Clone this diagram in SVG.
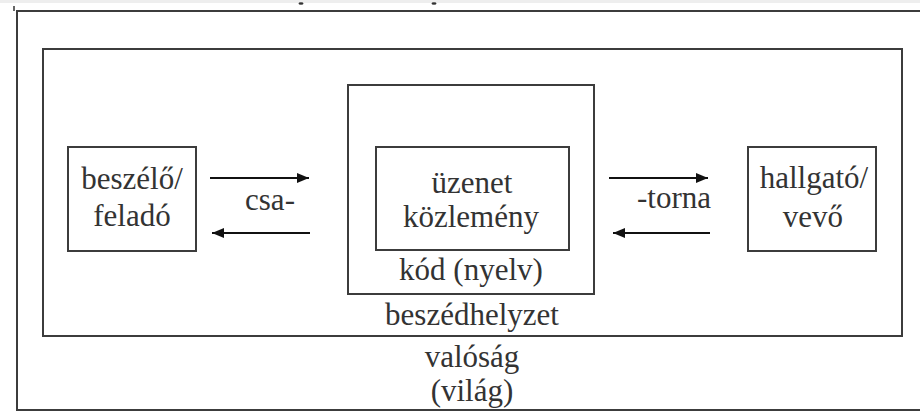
<svg xmlns="http://www.w3.org/2000/svg" width="920" height="412" viewBox="0 0 920 412">
<defs>
<style>
.frame{fill:none;stroke:#3c3c3c;stroke-width:2}
.lbl{font-family:'Liberation Serif','DejaVu Serif',serif;font-size:31px;fill:#333;text-anchor:middle}
.conn{stroke:#111;stroke-width:2;fill:none}
</style>
<marker id="ah" viewBox="0 0 12 10" refX="12" refY="5" markerWidth="12" markerHeight="10" markerUnits="userSpaceOnUse" orient="auto">
<path d="M0,0 L12,5 L0,10 z" fill="#111"/>
</marker>
</defs>
<rect x="0" y="0" width="920" height="412" fill="#ffffff"/>
<rect x="0" y="0" width="920" height="3" fill="#eeeeee"/>
<ellipse cx="301" cy="3.5" rx="2.5" ry="1.2" fill="#333"/>
<ellipse cx="434" cy="3.5" rx="2.5" ry="1.2" fill="#333"/>
<line x1="14" y1="6" x2="14" y2="11" stroke="#333" stroke-width="1.5"/>

<g id="valosag">
<path class="frame" d="M925,11 L17,11 L17,410 L925,410"/>
<text class="lbl" x="472" y="367" font-size="29">valóság</text>
<text class="lbl" x="472" y="401" font-size="29">(világ)</text>
</g>

<g id="beszedhelyzet">
<rect class="frame" x="43" y="49" width="859" height="287"/>
<text class="lbl" x="472" y="325">beszédhelyzet</text>
</g>

<g id="kod">
<rect class="frame" x="348" y="85" width="246" height="209"/>
<text class="lbl" x="471" y="280">kód (nyelv)</text>
</g>

<g id="uzenet">
<rect class="frame" x="376" y="147" width="193" height="103"/>
<text class="lbl" x="472" y="193">üzenet</text>
<text class="lbl" x="471" y="227">közlemény</text>
</g>

<g id="felado">
<rect class="frame" x="68" y="147" width="128" height="104"/>
<text class="lbl" x="132" y="189">beszélő/</text>
<text class="lbl" x="132" y="226">feladó</text>
</g>

<g id="vevo">
<rect class="frame" x="748" y="147" width="128" height="104"/>
<text class="lbl" x="814" y="188">hallgató/</text>
<text class="lbl" x="813" y="227">vevő</text>
</g>

<g id="connectors">
<line class="conn" x1="210" y1="178" x2="309" y2="178" marker-end="url(#ah)"/>
<line class="conn" x1="310" y1="233" x2="212" y2="233" marker-end="url(#ah)"/>
<line class="conn" x1="609" y1="178" x2="708" y2="178" marker-end="url(#ah)"/>
<line class="conn" x1="710" y1="233" x2="613" y2="233" marker-end="url(#ah)"/>
<text class="lbl" x="270" y="210">csa-</text>
<text class="lbl" x="674" y="208">-torna</text>
</g>
</svg>
